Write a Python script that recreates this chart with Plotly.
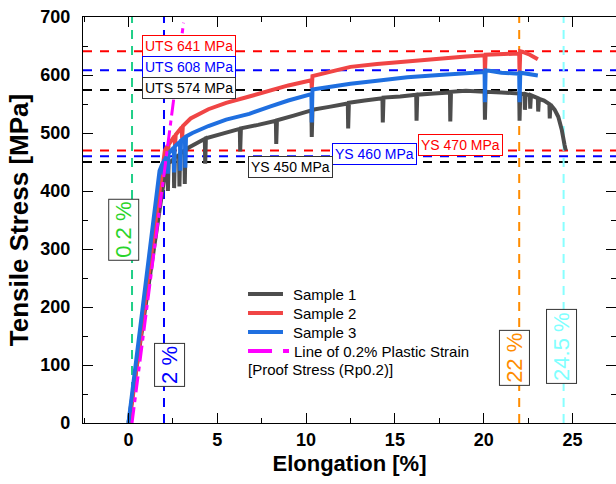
import plotly.graph_objects as go

# ---------------- data ----------------
s1_x = [0.0, 2.05, 2.2, 2.22, 2.26, 2.55, 2.57, 2.61, 2.85, 2.87, 2.91, 3.15, 3.17, 3.21, 3.4,
        4.3, 4.32, 4.36, 5.3, 6.27, 6.29, 6.33, 7.3, 8.3, 8.32, 8.36, 9.3, 10.3, 10.32, 10.36,
        11.3, 12.35, 12.37, 12.41, 13.3, 14.3, 14.32, 14.36, 15.3, 16.2, 16.22, 16.26, 17.2,
        18.1, 18.12, 18.16, 19.0, 20.05, 20.07, 20.11, 21.0, 22.0, 22.02, 22.06, 22.3, 22.32,
        22.36, 22.6, 22.62, 22.66, 23.05, 23.07, 23.11, 23.4, 23.7, 23.72, 23.76, 24.0, 24.2,
        24.4, 24.55, 24.62]
s1_y = [0, 430, 445, 400, 448, 455, 405, 458, 462, 408, 465, 470, 412, 471, 475,
        490, 447, 491, 499, 507, 468, 508, 514, 521, 481, 522, 530, 539, 493, 540,
        545, 551, 508, 552, 556, 560, 518, 561, 563, 566, 521, 566, 568,
        570, 520, 571, 573, 571, 523, 571, 570, 568, 521, 568, 567, 540,
        567, 565, 542, 565, 560, 537, 559, 556, 550, 525, 549, 540, 528,
        505, 480, 470]

s2_x = [0.05, 2.05, 2.2, 2.22, 2.26, 2.6, 2.62, 2.66, 3.0, 3.02, 3.06, 3.5, 4.5, 5.5, 6.8,
        8.0, 9.0, 10.3, 10.32, 10.36, 11.0, 12.5, 14.0, 15.7, 17.5, 19.0, 20.05, 20.07, 20.11,
        21.0, 22.0, 22.02, 22.06, 22.2, 22.6, 23.05]
s2_y = [0, 470, 478, 460, 480, 495, 478, 497, 510, 490, 512, 525, 541, 552, 563,
        574, 582, 591, 577, 598, 603, 614, 619, 624, 629, 632, 634, 604, 635,
        636, 637, 602, 641, 640, 635, 627]

s3_x = [0.0, 1.75, 1.95, 1.97, 2.0, 2.2, 2.22, 2.26, 2.55, 2.57, 2.61, 2.9, 2.92, 2.96,
        3.18, 3.2, 3.24, 3.6, 4.5, 5.5, 6.8, 8.0, 9.0, 10.3, 10.32, 10.36, 11.0, 12.5, 14.0,
        15.7, 17.5, 19.0, 20.05, 20.07, 20.11, 20.4, 21.0, 22.0, 22.02, 22.06, 22.5, 23.05]
s3_y = [0, 435, 450, 428, 452, 462, 430, 465, 475, 432, 477, 485, 435, 487,
        492, 440, 494, 500, 512, 523, 533, 546, 556, 567, 518, 575, 578, 585, 590,
        596, 600, 603, 605, 553, 608, 607, 604, 602, 553, 604, 601, 599]

offset_x = [0.2, 3.1]
offset_y = [0, 690]

series_names = ["Sample 1", "Sample 2", "Sample 3", "Line of 0.2% Plastic Strain"]
series_colors = ["#4d4d4d", "#f04545", "#1f6fe0", "#ff00ff"]
legend_note = "[Proof Stress (Rp0.2)]"

uts_values = [641, 608, 574]
ys_values = [470, 460, 450]
level_colors = ["#ff0000", "#0000ff", "#000000"]
uts_labels = ["UTS 641 MPa", "UTS 608 MPa", "UTS 574 MPa"]
ys_labels = ["YS 470 MPa", "YS 460 MPa", "YS 450 MPa"]

strain_marks = [0.2, 2, 22, 24.5]
strain_line_colors = ["#20cf88", "#0000ff", "#ff8c00", "#88ffff"]
strain_text_colors = ["#2ad42a", "#0000ff", "#ff8c00", "#80ffff"]
strain_labels = ["0.2 %", "2 %", "22 %", "24.5 %"]

FONT = "Liberation Sans, Arial, sans-serif"
MAGENTA_DASH = "16px,5px,5px,5px"

fig = go.Figure()
curves = [(s1_x, s1_y), (s2_x, s2_y), (s3_x, s3_y)]
for (xs, ys), n, c in zip(curves, series_names[:3], series_colors[:3]):
    fig.add_trace(go.Scatter(x=xs, y=ys, mode="lines", name=n, showlegend=False,
                             line=dict(color=c, width=4)))
fig.add_trace(go.Scatter(x=offset_x, y=offset_y, mode="lines", name=series_names[3],
                         showlegend=False,
                         line=dict(color=series_colors[3], width=3, dash=MAGENTA_DASH)))

# horizontal reference lines
for v, c in zip(uts_values + ys_values, level_colors + level_colors):
    fig.add_shape(type="line", xref="paper", x0=0, x1=1, yref="y", y0=v, y1=v,
                  line=dict(color=c, width=2, dash="9px,8px"), layer="below")
# vertical reference lines
for v, c in zip(strain_marks, strain_line_colors):
    fig.add_shape(type="line", xref="x", x0=v, x1=v, yref="paper", y0=0, y1=1,
                  line=dict(color=c, width=2, dash="9px,7px"), layer="below")

# UTS / YS boxes
uts_pos = [(3.42, 650), (3.42, 613), (3.42, 578)]
ys_pos = [(18.72, 479), (13.85, 463), (9.12, 441)]
for (px, py), t, c in zip(uts_pos + ys_pos, uts_labels + ys_labels, level_colors + level_colors):
    fig.add_annotation(x=px, y=py, xref="x", yref="y", text=t, showarrow=False,
                       font=dict(family=FONT, size=14, color=c),
                       bgcolor="white", bordercolor=c if c != "#000000" else "#333333",
                       borderwidth=1, borderpad=2)

strain_pos = [(-0.28, 334), (2.31, 101), (21.73, 113), (24.38, 132)]
for (px, py), t, c in zip(strain_pos, strain_labels, strain_text_colors):
    fig.add_annotation(x=px, y=py, xref="x", yref="y", text=t, showarrow=False,
                       textangle=-90, font=dict(family=FONT, size=22, color=c),
                       bgcolor="white", bordercolor="#333333", borderwidth=1, borderpad=2)

# manual legend (paper coordinates)
leg_rows = [0.3177, 0.2709, 0.2241, 0.1773]
leg_x0, leg_x1, leg_tx = 0.3096, 0.3752, 0.390
for i, (n, c, ry) in enumerate(zip(series_names, series_colors, leg_rows)):
    if i < 3:
        fig.add_shape(type="line", xref="paper", yref="paper", x0=leg_x0, x1=leg_x1,
                      y0=ry, y1=ry, line=dict(color=c, width=4))
    else:
        fig.add_shape(type="line", xref="paper", yref="paper", x0=leg_x0, x1=0.3865,
                      y0=ry, y1=ry, line=dict(color=c, width=4, dash="24px,11px,6px,6px"))
    fig.add_annotation(x=leg_tx if i < 3 else 0.3925, y=ry, xref="paper", yref="paper",
                       xanchor="left", yanchor="middle", text=n, showarrow=False,
                       font=dict(family=FONT, size=15, color="black"))
fig.add_annotation(x=0.306, y=0.133, xref="paper", yref="paper", xanchor="left",
                   yanchor="middle", text=legend_note, showarrow=False,
                   font=dict(family=FONT, size=15, color="black"))

axis_common = dict(showline=True, linecolor="black", linewidth=1.3, mirror="ticks",
                   ticks="inside", ticklen=10, tickwidth=1.3, tickcolor="black",
                   showgrid=False, zeroline=False,
                   tickfont=dict(family=FONT, size=18, color="black", weight="bold"))

fig.update_xaxes(range=[-2.56, 27.45], dtick=5, tick0=0,
                 minor=dict(dtick=2.5, ticks="inside", ticklen=5, tickcolor="black", tickwidth=1.3),
                 title=dict(text="Elongation [%]", standoff=6,
                            font=dict(family=FONT, size=22, color="black", weight="bold")),
                 **axis_common)
fig.update_yaxes(range=[0, 700], dtick=100, tick0=0, ticklabelstandoff=8,
                 minor=dict(dtick=50, ticks="inside", ticklen=5, tickcolor="black", tickwidth=1.3),
                 title=dict(text="Tensile Stress [MPa]", standoff=4,
                            font=dict(family=FONT, size=26, color="black", weight="bold")),
                 **axis_common)

fig.update_layout(
    width=616, height=484,
    margin=dict(l=83, r=0, t=17, b=61),
    paper_bgcolor="white", plot_bgcolor="white",
    font=dict(family=FONT, color="black"),
    showlegend=False,
)

fig.write_html("out.html")
